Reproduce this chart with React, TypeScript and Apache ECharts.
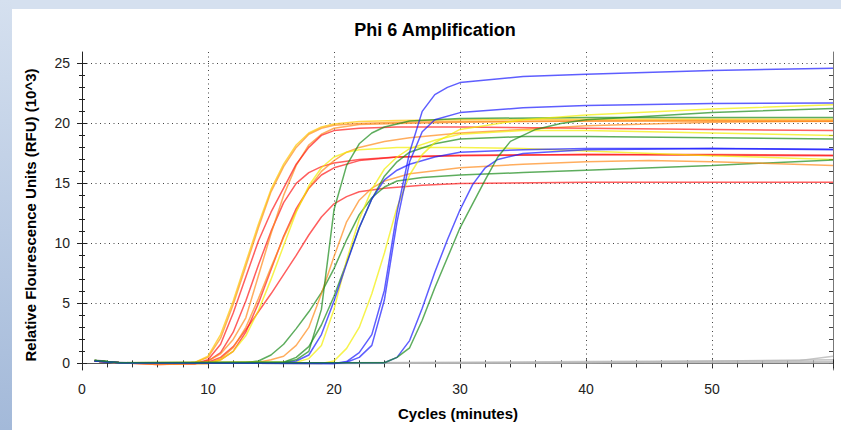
import React, { useEffect, useRef } from "react";
import * as echarts from "echarts";

// ---- Data (cycle, RFU x10^3) ----
const goldYellow = [[1,0.25],[3,0.05],[8,0],[9,0.1],[10,0.6],[11,2.4],[12,5.2],[13,8.4],[14,11.6],[15,14.5],[16,16.6],[17,18.2],[18,19.2],[19,19.7],[20,19.95],[22,20.15],[25,20.25],[30,20.3],[40,20.35],[50,20.35],[59.6,20.35]];
const goldOrange = [[1,0.2],[3,0.05],[8,0],[9,0.1],[10,0.5],[11,2.1],[12,4.9],[13,8.1],[14,11.3],[15,14.3],[16,16.4],[17,18.0],[18,19.1],[19,19.6],[20,19.85],[22,20.0],[25,20.1],[30,20.15],[40,20.2],[50,20.2],[59.6,20.15]];
const redA = [[1,0.2],[3,0.05],[9,0],[10,0.3],[11,1.6],[12,4.2],[13,7.2],[14,10.2],[15,12.6],[16,14.6],[17,16.6],[18,18.0],[19,19.0],[20,19.4],[22,19.6],[25,19.7],[30,19.7],[40,19.6],[50,19.5],[59.6,19.4]];
const redB = [[1,0.2],[3,0.05],[9,0],[10,0.2],[11,0.9],[12,2.6],[13,5.2],[14,8.2],[15,11.0],[16,13.4],[17,15.0],[18,15.9],[19,16.4],[20,16.7],[22,17.0],[25,17.2],[30,17.3],[40,17.4],[50,17.4],[59.6,17.35]];
const redC = [[1,0.2],[3,0.05],[10,0],[11,0.3],[12,1.0],[13,2.6],[14,5.0],[15,7.8],[16,10.6],[17,12.9],[18,14.6],[19,15.7],[20,16.3],[22,16.9],[25,17.2],[30,17.35],[40,17.4],[59.6,17.3]];
const redD = [[1,0.2],[3,0.05],[6,-0.1],[9,0],[10,0.1],[11,0.5],[12,1.4],[13,2.8],[14,4.3],[15,5.8],[16,7.4],[17,9.0],[18,10.7],[19,12.2],[20,13.3],[21,13.9],[22,14.3],[24,14.6],[27,14.85],[30,15.0],[40,15.1],[59.6,15.1]];
const orangeE1 = [[1,0.2],[3,0.05],[9,0],[10,0.2],[11,0.8],[12,2.0],[13,3.8],[14,7.3],[15,10.8],[16,14.0],[17,16.5],[18,18.2],[19,19.1],[20,19.6],[22,19.9],[25,20.0],[30,20.1],[40,20.2],[50,20.25],[59.6,20.2]];
const orangeE2 = [[1,0.2],[3,0.05],[6,-0.1],[10,0],[11,0.4],[12,1.3],[13,3.0],[14,5.4],[15,8.0],[16,10.5],[17,12.7],[18,14.6],[19,16.0],[20,16.9],[21,17.6],[22,18.0],[24,18.5],[26,18.8],[30,19.2],[35,19.5],[40,19.8],[50,20.1],[59.6,20.2]];
const yellowE = [[1,0.2],[3,0.05],[10,0],[11,0.3],[12,1.0],[13,2.3],[14,4.4],[15,7.0],[16,9.8],[17,12.6],[18,14.8],[19,16.3],[20,17.2],[21,17.6],[22,17.8],[25,18.0],[30,18.0],[35,17.9],[40,17.7],[50,17.3],[59.6,17.0]];
const greenG = [[1,0.25],[3,0.05],[13,0.05],[14,0.2],[15,0.7],[16,1.6],[17,2.9],[18,4.3],[19,5.9],[20,7.9],[21,10.3],[22,12.4],[23,13.8],[24,14.7],[25,15.2],[27,15.5],[30,15.7],[35,15.9],[40,16.1],[50,16.5],[59.6,16.95]];
const orangeM = [[1,0.2],[3,0.05],[14,0.1],[15,0.3],[16,0.6],[17,1.5],[18,3.0],[19,5.8],[20,8.9],[21,11.8],[22,13.6],[23,14.6],[24,15.2],[26,15.8],[30,16.3],[35,16.6],[40,16.8],[45,16.9],[50,16.8],[59.6,16.5]];
const greenS = [[1,0.25],[3,0.05],[16,0.1],[17,0.3],[18,1.0],[19,4.5],[20,12.8],[21,16.5],[22,18.3],[23,19.2],[24,19.7],[26,20.2],[30,20.4],[40,20.5],[59.6,20.5]];
const greenM = [[1,0.25],[3,0.05],[16,0.1],[17,0.5],[18,1.4],[19,3.2],[20,5.6],[21,8.4],[22,11.3],[23,13.7],[24,15.6],[25,16.8],[26,17.6],[28,18.3],[30,18.7],[35,18.9],[40,18.9],[50,18.8],[59.6,18.7]];
const yellowM = [[1,0.2],[3,0.05],[17,0.1],[18,0.4],[19,1.5],[20,4.5],[21,8.6],[22,12.0],[23,14.5],[24,16.2],[25,17.2],[26,17.9],[28,18.6],[30,19.1],[35,19.4],[40,19.4],[50,19.2],[59.6,19.0]];
const blueM = [[1,0.2],[3,0.05],[16,0.05],[17,0.2],[18,0.7],[19,2.4],[20,5.2],[21,8.3],[22,11.3],[23,13.7],[24,15.3],[25,16.1],[26,16.6],[28,17.2],[30,17.6],[35,17.8],[40,17.9],[50,17.9],[59.6,17.85]];
const yellowL = [[1,0.2],[3,0.05],[19,0],[20,0.2],[21,1.25],[22,3.0],[23,5.8],[24,9.2],[25,13.0],[26,15.7],[27,17.4],[28,18.4],[30,19.5],[35,20.3],[40,20.7],[50,21.2],[59.6,21.55]];
const blueL1 = [[1,0.2],[3,0.05],[20,0],[21,0.15],[22,0.9],[23,2.4],[24,6.1],[25,12.6],[26,17.6],[27,21.0],[28,22.4],[29,23.0],[30,23.4],[35,23.9],[40,24.1],[50,24.4],[59.6,24.6]];
const blueL2 = [[1,0.2],[3,0.05],[20,0],[21,0.1],[22,0.5],[23,1.5],[24,5.3],[25,11.8],[26,16.8],[27,19.3],[28,20.3],[30,20.9],[35,21.3],[40,21.5],[50,21.65],[59.6,21.7]];
const blueVL = [[1,0.2],[3,0.05],[24,0.05],[25,0.5],[26,1.9],[27,4.6],[28,7.6],[29,10.3],[30,12.8],[31,14.9],[32,16.3],[33,17.0],[35,17.5],[40,17.8],[50,17.9],[59.6,17.8]];
const greenVL = [[1,0.25],[3,0.05],[24,0.05],[25,0.5],[26,1.3],[27,3.6],[28,6.3],[29,8.8],[30,11.3],[31,13.3],[32,15.3],[33,17.2],[34,18.5],[36,19.5],[38,20.0],[40,20.3],[45,20.6],[50,20.9],[59.6,21.25]];
const gray1 = [[1,0.3],[2,0.15],[4,0.05],[10,0.02],[20,0.05],[30,0.1],[40,0.15],[50,0.2],[57,0.25],[59.6,0.6]];
const gray2 = [[1,0.2],[3,0.05],[20,0.0],[40,0.08],[59.6,0.3]];
const gray3 = [[1,0.25],[3,0.05],[30,0.05],[59.6,0.15]];
const gray4 = [[1,0.2],[3,0.02],[59.6,0.05]];

// axis ranges and tick values
const xMin = 0, xMax = 59.6, xStep = 10;
const yMin = -0.55, yMax = 25.95;
const yMajorTicks = [0, 5, 10, 15, 20, 25];
const yMinorTicks = [1, 2, 3, 4, 6, 7, 8, 9, 11, 12, 13, 14, 16, 17, 18, 19, 21, 22, 23, 24];
const yAllTicks = [0, 1, 2, 3, 4, 5, 6, 7, 8, 9, 10, 11, 12, 13, 14, 15, 16, 17, 18, 19, 20, 21, 22, 23, 24, 25];

const TITLE = "Phi 6 Amplification";
const X_NAME = "Cycles (minutes)";
const Y_NAME = "Relative Flourescence Units (RFU) (10^3)";

// ---- styles ----
const COLORS: Record<string, string> = {
  gold: "#ffc400", red: "#ff1a1a", orange: "#ff8a1a", yellow: "#f2ee00",
  green: "#1a8a1a", blue: "#1a1aff", gray: "#b8b8b8",
};
const seriesDefs: [number[][], string][] = [
  [gray4, "gray"], [gray3, "gray"], [gray2, "gray"], [gray1, "gray"],
  [redD, "red"], [redC, "red"], [redB, "red"], [orangeE2, "orange"], [yellowE, "yellow"],
  [orangeE1, "orange"], [redA, "red"], [goldOrange, "orange"], [goldYellow, "gold"],
  [greenG, "green"], [orangeM, "orange"], [greenM, "green"], [yellowM, "yellow"], [blueM, "blue"],
  [greenS, "green"], [yellowL, "yellow"], [blueL2, "blue"], [blueL1, "blue"],
  [blueVL, "blue"], [greenVL, "green"],
];

const FONT = "Liberation Sans, Arial, sans-serif";

export default function App() {
  const ref = useRef<HTMLDivElement>(null);
  useEffect(() => {
    if (!ref.current) return;
    const chart = echarts.init(ref.current, undefined, { renderer: "svg" });
    const hidden = { show: false };
    const baseX = { type: "value", min: xMin, max: xMax, interval: xStep };
    const baseY = { type: "value", min: yMin, max: yMax };
    const tickStyle = { color: "#222" };
    const yOverlay = (values: number[], inside: boolean, length: number) => ({
      ...baseY, position: "left",
      axisLine: hidden,
      axisTick: { show: true, inside, length, customValues: values, lineStyle: tickStyle },
      axisLabel: { show: false, customValues: values },
      splitLine: hidden,
    });
    chart.setOption({
      animation: false,
      backgroundColor: "#ffffff",
      grid: { left: 82, right: 8, top: 52, bottom: 60 },
      xAxis: [
        {
          ...baseX, position: "bottom",
          axisLine: { show: true, lineStyle: { color: "#222", width: 1 } },
          axisTick: { show: true, length: 5, lineStyle: tickStyle },
          minorTick: { show: true, splitNumber: 5, length: 3, lineStyle: tickStyle },
          axisLabel: { show: true, fontFamily: FONT, fontSize: 14, color: "#222", margin: 12, showMaxLabel: false },
          splitLine: { show: true, lineStyle: { color: "#444", type: [1, 3.5], width: 1 } },
        },
        {
          ...baseX, position: "bottom",
          axisLine: hidden,
          axisTick: { show: true, inside: true, length: 4, lineStyle: tickStyle },
          minorTick: { show: true, splitNumber: 5, length: 3, lineStyle: tickStyle },
          axisLabel: hidden, splitLine: hidden,
        },
        {
          ...baseX, position: "top",
          axisLine: { show: true, lineStyle: { color: "#555", width: 1 } },
          axisTick: { show: true, inside: true, length: 4, lineStyle: { color: "#333" } },
          minorTick: { show: true, splitNumber: 5, length: 4, lineStyle: { color: "#333" } },
          axisLabel: hidden, splitLine: hidden,
        },
      ],
      yAxis: [
        {
          ...baseY, position: "left",
          axisLine: { show: true, lineStyle: { color: "#222", width: 1 } },
          axisTick: { show: true, length: 5, customValues: yMajorTicks, lineStyle: tickStyle },
          axisLabel: { show: true, customValues: yMajorTicks, fontFamily: FONT, fontSize: 14, color: "#222", margin: 12 },
          splitLine: { show: true, lineStyle: { color: "#444", type: [1, 3.5], width: 1 } },
        },
        yOverlay(yMajorTicks, true, 5),
        yOverlay(yMinorTicks, false, 3),
        yOverlay(yMinorTicks, true, 3),
        {
          ...baseY, position: "right",
          axisLine: { show: true, lineStyle: { color: "#777", width: 1 } },
          axisTick: { show: true, inside: true, length: 4, customValues: yAllTicks, lineStyle: { color: "#444" } },
          axisLabel: { show: false, customValues: yAllTicks },
          splitLine: hidden,
        },
      ],
      graphic: [
        { type: "rect", z: -10, shape: { x: 0, y: 0, width: 841, height: 9 }, style: { fill: "#d5e0ef" }, silent: true },
        {
          type: "rect", z: -10, shape: { x: 0, y: 0, width: 12, height: 430 }, silent: true,
          style: { fill: new echarts.graphic.LinearGradient(0, 0, 0, 1, [
            { offset: 0, color: "#d5e0ef" }, { offset: 1, color: "#a3b9d9" },
          ]) },
        },
        {
          type: "text", x: 435, y: 30,
          style: { text: TITLE, font: `bold 18px ${FONT}`, fill: "#000", textAlign: "center", textVerticalAlign: "middle" },
        },
        {
          type: "text", x: 30, y: 215, rotation: Math.PI / 2,
          style: { text: Y_NAME, font: `bold 15px ${FONT}`, fill: "#000", textAlign: "center", textVerticalAlign: "middle" },
        },
        {
          type: "text", x: 458, y: 413,
          style: { text: X_NAME, font: `bold 15px ${FONT}`, fill: "#000", textAlign: "center", textVerticalAlign: "middle" },
        },
      ],
      series: seriesDefs.map(([data, c], i) => ({
        type: "line",
        name: "s" + i,
        xAxisIndex: 0, yAxisIndex: 0,
        data,
        showSymbol: false,
        symbol: "none",
        smooth: false,
        silent: true,
        lineStyle: { color: COLORS[c], width: 1.5, opacity: c === "gray" ? 0.8 : 0.7 },
        z: 2 + (c === "gray" ? 0 : 1),
      })),
    });
    return () => chart.dispose();
  }, []);
  return <div ref={ref} style={{ position: "absolute", left: 0, top: 0, width: 841, height: 430 }} />;
}
